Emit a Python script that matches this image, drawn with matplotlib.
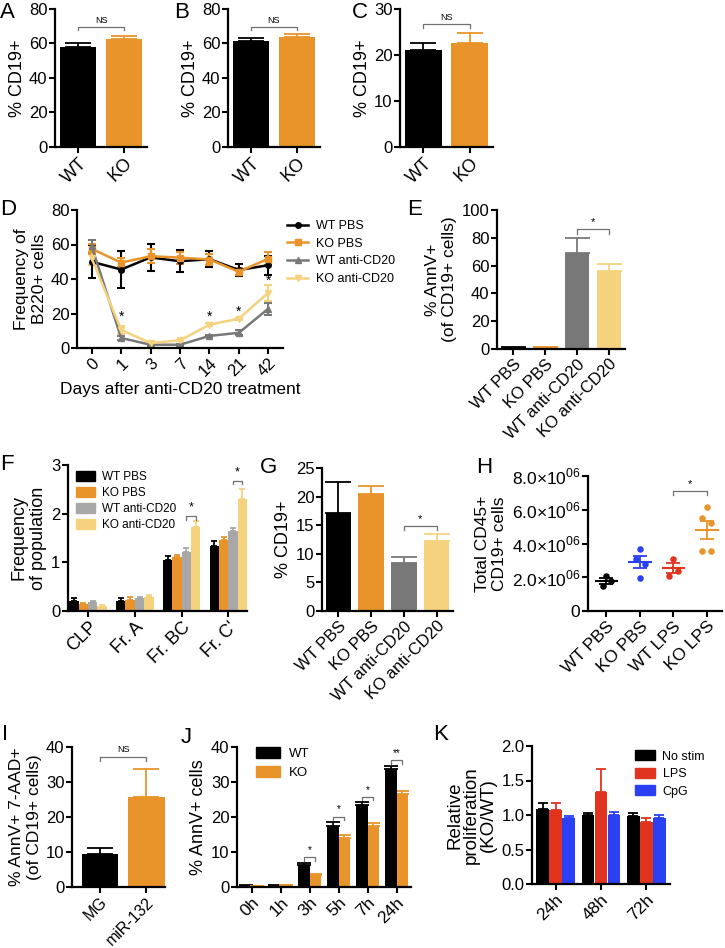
import matplotlib
matplotlib.use('Agg')
import matplotlib.pyplot as plt
from matplotlib.lines import Line2D
from matplotlib.patches import Patch
import numpy as np

plt.rcParams['font.family'] = ['Liberation Sans', 'DejaVu Sans']
plt.rcParams['mathtext.fontset'] = 'custom'
plt.rcParams['mathtext.rm'] = 'Liberation Sans'

# ---- data ----
top_groups = ['WT', 'KO']
a_mean, a_err = [58, 62.5], [2, 1.8]
b_mean, b_err = [61.5, 63.7], [1.5, 2]
c_mean, c_err = [21, 22.7], [1.5, 2]

d_days = ['0', '1', '3', '7', '14', '21', '42']
d_wt_pbs = [50, 45.5, 52.5, 50.3, 51.5, 45.2, 48]
d_wt_pbs_err = [9.5, 10.5, 8, 6.5, 4.7, 3.5, 5.5]
d_ko_pbs = [57.5, 49.5, 53.2, 52.4, 51.3, 44.2, 51.8]
d_ko_pbs_err = [3, 2.5, 4.2, 3.5, 3, 2, 3.9]
d_wt_cd20 = [59, 5.8, 1.9, 1.9, 7, 8.8, 22.8]
d_wt_cd20_err = [3.5, 1, 0.5, 0.5, 0.8, 1.5, 3.5]
d_ko_cd20 = [52, 10.5, 2.9, 4.4, 13.5, 17, 32]
d_ko_cd20_err = [4, 2.5, 0.5, 0.5, 1, 0.5, 4.5]
d_star_idx = [1, 4, 5, 6]
d_star_y = [18, 18, 21, 39]

e_groups = ['WT PBS', 'KO PBS', 'WT anti-CD20', 'KO anti-CD20']
e_mean, e_err = [1, 0.8, 69, 56], [0.4, 0.3, 11, 5]

f_pops = ['CLP', 'Fr. A', 'Fr. BC', "Fr. C'"]
f_wt_pbs, f_wt_pbs_err = [0.2, 0.2, 1.05, 1.34], [0.06, 0.07, 0.08, 0.1]
f_ko_pbs, f_ko_pbs_err = [0.15, 0.23, 1.1, 1.45], [0.02, 0.05, 0.06, 0.08]
f_wt_cd20, f_wt_cd20_err = [0.18, 0.27, 1.21, 1.65], [0.02, 0.02, 0.08, 0.06]
f_ko_cd20, f_ko_cd20_err = [0.11, 0.29, 1.73, 2.3], [0.02, 0.03, 0.12, 0.2]

g_mean, g_err = [17.2, 20.5, 8.4, 12.3], [5.4, 1.3, 1.0, 1.1]

h_groups = ['WT PBS', 'KO PBS', 'WT LPS', 'KO LPS']
h_wt_pbs = [2.09e6, 1.79e6, 1.5e6]
h_ko_pbs = [3.7e6, 3.11e6, 2.76e6, 1.97e6]
h_wt_lps = [3.09e6, 2.38e6, 2.09e6]
h_ko_lps = [6.17e6, 5.52e6, 5.22e6, 3.57e6, 3.57e6]

i_groups = ['MG', 'miR-132']
i_mean, i_err = [9.5, 25.8], [1.7, 8]

j_times = ['0h', '1h', '3h', '5h', '7h', '24h']
j_wt, j_wt_err = [0.4, 0.4, 6.3, 17.4, 23.3, 33.8], [0.1, 0.1, 0.6, 1.1, 0.9, 0.8]
j_ko, j_ko_err = [0.3, 0.5, 3.4, 14.1, 17.4, 26.7], [0.1, 0.1, 0.3, 0.7, 0.9, 0.6]
j_sig = ['', '', '*', '*', '*', '**']

k_times = ['24h', '48h', '72h']
k_nostim, k_nostim_err = [1.09, 1.0, 0.99], [0.08, 0.03, 0.04]
k_lps, k_lps_err = [1.07, 1.34, 0.9], [0.1, 0.33, 0.05]
k_cpg, k_cpg_err = [0.95, 1.0, 0.95], [0.03, 0.04, 0.05]

# ---- colours ----
BLK = '#000000'
ORG = '#e8942a'
YEL = '#f4d27e'
DGR = '#787878'
LGR = '#a8a8a8'
RED = '#e0341e'
BLU = '#2b40f2'

W, H = 725, 948
fig = plt.figure(figsize=(W / 100, H / 100), dpi=100)


def px_axes(l, t, r, b):
    ax = fig.add_axes([l / W, 1 - b / H, (r - l) / W, (b - t) / H])
    for s in ['top', 'right']:
        ax.spines[s].set_visible(False)
    for s in ['left', 'bottom']:
        ax.spines[s].set_linewidth(1.6)
    ax.tick_params(width=1.5, length=4.5, labelsize=12, pad=1)
    return ax


def bars(ax, x, vals, errs, colors, width):
    ax.bar(x, vals, width, color=colors, zorder=2)
    for xi, v, e, c in zip(x, vals, errs, colors):
        ax.errorbar(xi, v, yerr=[[0], [e]], color=c, capsize=width * 12,
                    elinewidth=1.3, capthick=1.3, zorder=1)


def bracket(ax, x1, x2, y, h, text, fs=7):
    ax.plot([x1, x1, x2, x2], [y - h, y, y, y - h], color='#707070', lw=0.9)
    ax.text((x1 + x2) / 2, y + h * 0.6, text, ha='center', va='bottom', fontsize=fs)


def rot_labels(ax, labels, fs=12.5):
    ax.set_xticklabels(labels, rotation=45, ha='right', rotation_mode='anchor', fontsize=fs)


def letter(x, y, s):
    fig.text(x / W, 1 - y / H, s, fontsize=16, va='top', ha='left')


# ---- A, B, C ----
for (l, r), m, e, ymax, step, yb in [((55, 147), a_mean, a_err, 80, 20, 69.6),
                                     ((228, 320), b_mean, b_err, 80, 20, 69.6),
                                     ((400, 493), c_mean, c_err, 30, 10, 26.7)]:
    ax = px_axes(l, 9, r, 147)
    x = np.arange(len(top_groups))
    bars(ax, x, m, e, [BLK, ORG], 0.8)
    ax.set_xlim(-0.5, 1.5)
    ax.set_ylim(0, ymax)
    ax.set_yticks(np.arange(0, ymax + 1, step))
    ax.set_xticks(x)
    rot_labels(ax, top_groups, 13)
    ax.set_ylabel('% CD19+', fontsize=13, labelpad=2)
    bracket(ax, 0, 1, yb, ymax * 0.025, 'NS', 6.5)
letter(0, 2, 'A')
letter(174, 2, 'B')
letter(352, 2, 'C')

# ---- D ----
ax = px_axes(77, 210, 283, 348)
x = np.arange(len(d_days))
series = [(d_wt_pbs, d_wt_pbs_err, BLK, 'o', 'WT PBS'),
          (d_ko_pbs, d_ko_pbs_err, ORG, 's', 'KO PBS'),
          (d_wt_cd20, d_wt_cd20_err, DGR, '^', 'WT anti-CD20'),
          (d_ko_cd20, d_ko_cd20_err, YEL, 'v', 'KO anti-CD20')]
handles = []
for v, e, c, mk, lab in series:
    ax.errorbar(x, v, yerr=e, color=c, marker=mk, ms=4, lw=1.8, capsize=3,
                elinewidth=1.5, capthick=1.5)
    handles.append(Line2D([], [], color=c, marker=mk, ms=4, lw=1.8, label=lab))
for i, y in zip(d_star_idx, d_star_y):
    ax.text(i, y, '*', ha='center', va='center', fontsize=10)
ax.set_xlim(-0.5, 6.5)
ax.set_ylim(0, 80)
ax.set_yticks([0, 20, 40, 60, 80])
ax.set_xticks(x)
rot_labels(ax, d_days, 12)
ax.set_ylabel('Frequency of\nB220+ cells', fontsize=12.5, labelpad=3)
ax.set_xlabel('Days after anti-CD20 treatment', fontsize=12.5, labelpad=2)
fig.legend(handles=handles, loc='upper left', bbox_to_anchor=(282 / W, 1 - 215 / H),
           frameon=False, fontsize=9, handlelength=1.7, labelspacing=0.45,
           handletextpad=0.6, borderaxespad=0)
letter(0, 199, 'D')

# ---- E ----
ax = px_axes(497, 210, 625, 349)
x = np.arange(len(e_groups))
bars(ax, x, e_mean, e_err, [BLK, ORG, DGR, YEL], 0.75)
bracket(ax, 2, 3, 86, 3, '*', 8)
ax.set_xlim(-0.5, 3.5)
ax.set_ylim(0, 100)
ax.set_yticks(np.arange(0, 101, 20))
ax.set_xticks(x)
rot_labels(ax, e_groups, 12)
ax.set_ylabel('% AnnV+\n(of CD19+ cells)', fontsize=12.5, labelpad=3)
letter(407, 199, 'E')

# ---- F ----
ax = px_axes(68, 465, 247, 611)
x = np.arange(len(f_pops))
fser = [(f_wt_pbs, f_wt_pbs_err, BLK, 'WT PBS'),
        (f_ko_pbs, f_ko_pbs_err, ORG, 'KO PBS'),
        (f_wt_cd20, f_wt_cd20_err, LGR, 'WT anti-CD20'),
        (f_ko_cd20, f_ko_cd20_err, YEL, 'KO anti-CD20')]
for k, (v, e, c, lab) in enumerate(fser):
    bars(ax, x + (k - 1.5) * 0.2, v, e, [c] * len(v), 0.2)
bracket(ax, 2.1, 2.3, 1.95, 0.08, '*', 9)
bracket(ax, 3.1, 3.3, 2.68, 0.08, '*', 9)
ax.set_xlim(-0.43, 3.4)
ax.set_ylim(0, 3)
ax.set_yticks([0, 1, 2, 3])
ax.set_xticks(x)
rot_labels(ax, f_pops, 13)
ax.set_ylabel('Frequency\nof population', fontsize=13, labelpad=3)
fig.legend(handles=[Patch(color=c, label=lab) for _, _, c, lab in fser],
           loc='upper left', bbox_to_anchor=(71 / W, 1 - 466 / H), frameon=False,
           fontsize=8.5, handlelength=1.6, handleheight=0.9, labelspacing=0.35,
           handletextpad=0.6, borderaxespad=0)
letter(0, 454, 'F')

# ---- G ----
ax = px_axes(322, 468, 453, 611)
x = np.arange(4)
bars(ax, x, g_mean, g_err, [BLK, ORG, DGR, YEL], 0.78)
bracket(ax, 2, 3, 14.8, 0.7, '*', 8)
ax.set_xlim(-0.5, 3.5)
ax.set_ylim(0, 25)
ax.set_yticks(np.arange(0, 26, 5))
ax.set_xticks(x)
rot_labels(ax, e_groups, 12)
ax.set_ylabel('% CD19+', fontsize=13, labelpad=3)
letter(260, 457, 'G')

# ---- H ----
ax = px_axes(588, 476, 722, 611)
h_sets = [(h_wt_pbs, BLK, [0, 0.13, -0.1]),
          (h_ko_pbs, BLU, [0, -0.12, 0.15, 0]),
          (h_wt_lps, RED, [0, 0.13, -0.13]),
          (h_ko_lps, ORG, [0, -0.15, 0.12, -0.15, 0.12])]
for i, (pts, c, jit) in enumerate(h_sets):
    pts = np.array(pts)
    ax.scatter(i + np.array(jit), pts, s=22, color=c, zorder=3, linewidths=0)
    m = pts.mean()
    sem = pts.std(ddof=1) / np.sqrt(len(pts))
    ax.plot([i - 0.32, i + 0.32], [m, m], color=c, lw=1.5, zorder=2)
    ax.errorbar(i, m, yerr=sem, color=c, capsize=5, elinewidth=1.3, capthick=1.3, zorder=2)
bracket(ax, 2, 3, 7.1e6, 0.25e6, '*', 8)
ax.set_xlim(-0.55, 3.45)
ax.set_ylim(0, 8e6)
ax.set_yticks([0, 2e6, 4e6, 6e6, 8e6])
ax.set_yticklabels(['0'] + [r'$%d.0{\times}10^{06}$' % v for v in [2, 4, 6, 8]], fontsize=12.5)
ax.set_xticks(np.arange(4))
rot_labels(ax, h_groups, 12.5)
ax.set_ylabel('Total CD45+\nCD19+ cells', fontsize=12.5, labelpad=3)
letter(476, 457, 'H')

# ---- I ----
ax = px_axes(72, 747, 165, 887)
x = np.arange(2)
bars(ax, x, i_mean, i_err, [BLK, ORG], 0.78)
bracket(ax, 0, 1, 37.2, 1.1, 'NS', 6.5)
ax.set_xlim(-0.6, 1.4)
ax.set_ylim(0, 40)
ax.set_yticks(np.arange(0, 41, 10))
ax.set_xticks(x)
rot_labels(ax, i_groups, 11.5)
ax.set_ylabel('% AnnV+ 7-AAD+\n(of CD19+ cells)', fontsize=12.5, labelpad=3)
letter(2, 724, 'I')

# ---- J ----
ax = px_axes(237, 747, 411, 887)
x = np.arange(len(j_times))
bars(ax, x - 0.2, j_wt, j_wt_err, [BLK] * 6, 0.4)
bars(ax, x + 0.2, j_ko, j_ko_err, [ORG] * 6, 0.4)
for i, s in enumerate(j_sig):
    if s:
        top = max(j_wt[i] + j_wt_err[i], j_ko[i] + j_ko_err[i]) + 1.6
        bracket(ax, i - 0.2, i + 0.2, top, 1.0, s, 7)
ax.set_xlim(-0.5, 5.5)
ax.set_ylim(0, 40)
ax.set_yticks(np.arange(0, 41, 10))
ax.set_xticks(x)
rot_labels(ax, j_times, 12.5)
ax.set_ylabel('% AnnV+ cells', fontsize=13, labelpad=3)
fig.legend(handles=[Patch(color=BLK, label='WT'), Patch(color=ORG, label='KO')],
           loc='upper left', bbox_to_anchor=(251 / W, 1 - 742 / H), frameon=False,
           fontsize=9.5, handlelength=1.8, handleheight=0.9, labelspacing=0.4,
           handletextpad=0.7, borderaxespad=0)
letter(181, 727, 'J')

# ---- K ----
ax = px_axes(532, 746, 670, 884)
x = np.arange(len(k_times))
kser = [(k_nostim, k_nostim_err, BLK, 'No stim'),
        (k_lps, k_lps_err, RED, 'LPS'),
        (k_cpg, k_cpg_err, BLU, 'CpG')]
for k, (v, e, c, lab) in enumerate(kser):
    bars(ax, x + (k - 1) * 0.285, v, e, [c] * 3, 0.275)
ax.set_xlim(-0.52, 2.52)
ax.set_ylim(0, 2.0)
ax.set_yticks([0, 0.5, 1.0, 1.5, 2.0])
ax.set_yticklabels(['0.0', '0.5', '1.0', '1.5', '2.0'])
ax.set_xticks(x)
rot_labels(ax, k_times, 12.5)
ax.set_ylabel('Relative\nproliferation\n(KO/WT)', fontsize=13.5, labelpad=3, linespacing=1.0)
fig.legend(handles=[Patch(color=c, label=lab) for _, _, c, lab in kser],
           loc='upper left', bbox_to_anchor=(630 / W, 1 - 745 / H), frameon=False,
           fontsize=9, handlelength=1.6, handleheight=0.9, labelspacing=0.4,
           handletextpad=0.6, borderaxespad=0)
letter(433, 724, 'K')

fig.savefig('out.png', dpi=100)
